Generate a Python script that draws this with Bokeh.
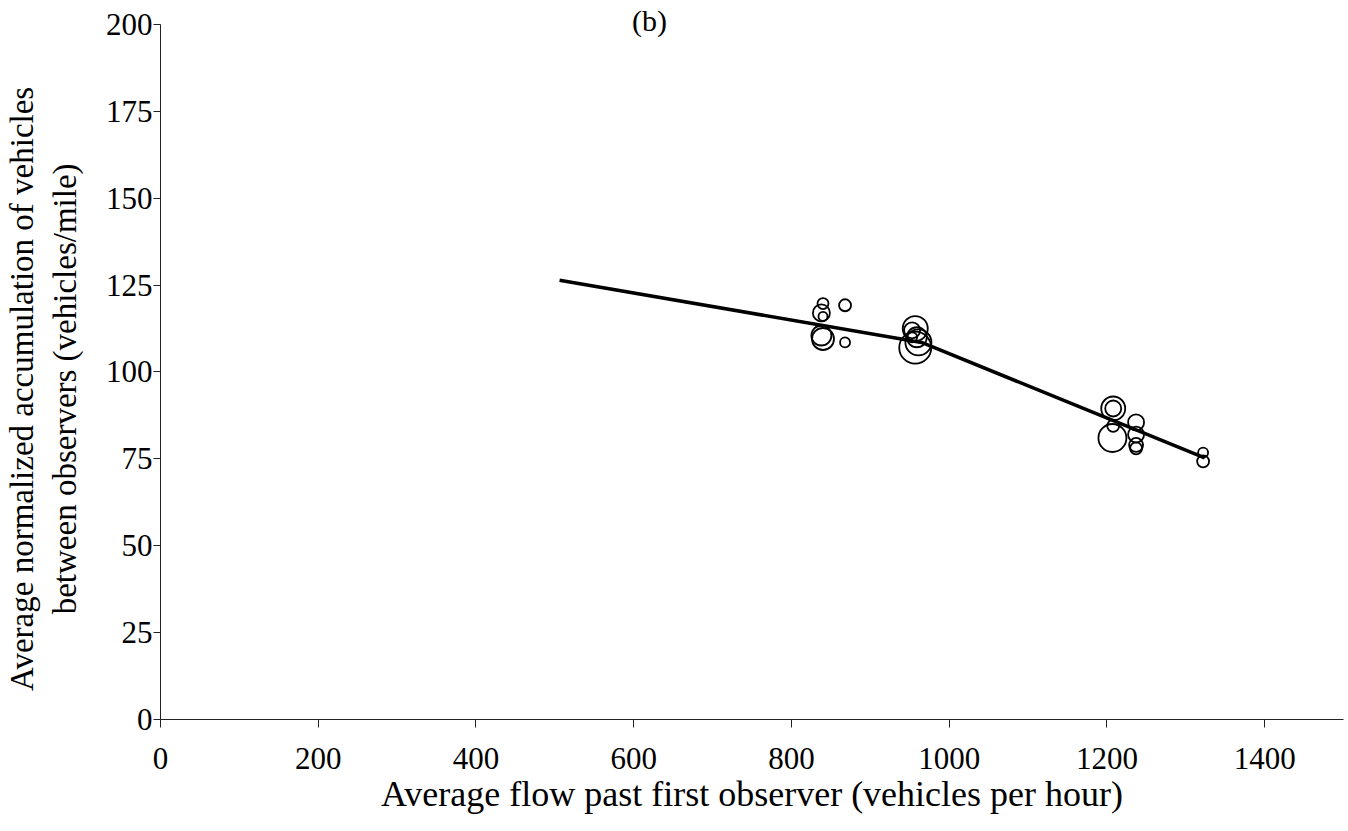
from bokeh.plotting import figure
from bokeh.models import Range1d, Label, ColumnDataSource, FixedTicker
from bokeh.embed import file_html
from bokeh.resources import INLINE

# ---- data ----
flow = [840, 838, 840, 838, 840, 868, 868,
        957, 953, 959, 957, 961, 953,
        1208, 1208, 1208, 1207,
        1237, 1237, 1237, 1237,
        1322, 1322]
accum = [119.7, 117.0, 116.0, 110.5, 109.5, 119.2, 108.5,
         112.5, 112.0, 110.0, 107.0, 108.5, 110.0,
         89.5, 89.5, 84.5, 81.0,
         85.5, 82.0, 79.0, 78.0,
         76.8, 74.3]
weight = [5.5, 8.5, 4.5, 10, 11, 6, 5,
          12.5, 8, 10, 16, 13, 5,
          12, 8, 6, 14,
          8, 8, 7, 6,
          5, 6]
fit_flow = [506, 965, 1324]
fit_accum = [126.4, 108.5, 75.3]
x_ticks = [0, 200, 400, 600, 800, 1000, 1200, 1400]
y_ticks = [0, 25, 50, 75, 100, 125, 150, 175, 200]

FONT = "Liberation Serif"
PAD = "\u00a0" * 7

p = figure(width=1345, height=819, output_backend="svg", toolbar_location=None,
           x_range=Range1d(0, 1500), y_range=Range1d(0, 206.9),
           min_border_left=160, min_border_right=2, min_border_top=0, min_border_bottom=100)
p.outline_line_color = None
p.xgrid.grid_line_color = None
p.ygrid.grid_line_color = None
p.background_fill_color = "white"
p.border_fill_color = "white"

src = ColumnDataSource(dict(x=flow, y=accum, s=[2 * w for w in weight]))
p.scatter("x", "y", size="s", source=src, marker="circle", fill_color=None,
          line_color="black", line_width=1.8)
p.line(fit_flow, fit_accum, line_color="black", line_width=3.5)

for ax in (p.xaxis[0], p.yaxis[0]):
    ax.axis_line_color = "#222222"
    ax.axis_line_width = 1
    ax.major_tick_line_color = "#222222"
    ax.minor_tick_line_color = None
    ax.major_tick_in = 0
    ax.major_tick_out = 8
    ax.major_label_text_font = FONT
    ax.major_label_text_font_size = "31px"
    ax.major_label_text_color = "black"
    ax.axis_label_text_font = FONT
    ax.axis_label_text_font_style = "normal"
    ax.axis_label_text_color = "black"

p.yaxis.bounds = (0, 200)
p.yaxis.major_tick_out = 7
p.xaxis.axis_label_text_font_size = "36px"
p.yaxis.axis_label_text_font_size = "33px"
p.xaxis.ticker = FixedTicker(ticks=x_ticks)
p.yaxis.ticker = FixedTicker(ticks=y_ticks)
p.xaxis.major_label_standoff = 20
p.yaxis.major_label_standoff = 1
p.xaxis.axis_label = "Average flow past first observer (vehicles per hour)"
p.yaxis.axis_label = ("Average normalized accumulation of vehicles" + PAD +
                      "\nbetween observers (vehicles/mile)" + PAD)
p.xaxis.axis_label_standoff = 2
p.yaxis.axis_label_standoff = 20

p.add_layout(Label(x=620, y=200, text="(b)", text_align="center", text_baseline="middle",
                   y_offset=4, text_font=FONT, text_font_size="30px", text_color="black"))

open("out.html", "w").write(file_html(p, INLINE))
